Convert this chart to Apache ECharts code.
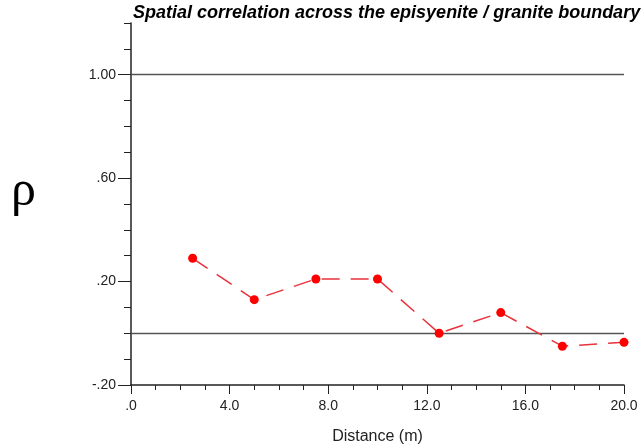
<!DOCTYPE html>
<html><head><meta charset="utf-8">
<script src="https://cdn.jsdelivr.net/npm/echarts@6/dist/echarts.min.js"></script>
<style>html,body{margin:0;padding:0;background:#fff}#c{width:644px;height:447px}</style>
</head><body><div id="c"></div>
<script>
const distance = [2.5, 5.0, 7.5, 10.0, 12.5, 15.0, 17.5, 20.0];
const rho = [0.29, 0.13, 0.21, 0.21, 0.0, 0.08, -0.05, -0.035];
const yTickLabels = [-0.2, 0.2, 0.6, 1.0];
const xTickLabels = [0, 4, 8, 12, 16, 20];
const refLines = [0, 1.0];
const titleText = 'Spatial correlation across the episyenite / granite boundary';
const xName = 'Distance (m)';
const yName = 'ρ';

function fmtY(v){
  const r = Math.round(v*100)/100;
  let s = Math.abs(r).toFixed(2);
  if (s.startsWith('0')) s = s.slice(1);
  return (r < 0 ? '-' : '') + s;
}
function fmtX(v){
  const r = Math.round(v*10)/10;
  let s = r.toFixed(1);
  if (s.startsWith('0')) s = s.slice(1);
  return s;
}
const axisColor = '#222';
const font = 'Liberation Sans, Arial, sans-serif';
const chart = echarts.init(document.getElementById('c'));
chart.setOption({
  backgroundColor: '#fff',
  animation: false,
  grid: {left: 131, right: 20, top: 23, bottom: 62, containLabel: false, outerBoundsMode: 'none'},
  graphic: [
    {type:'text', left: 133, top: 4, style:{text: titleText, font: 'italic bold 18px Liberation Sans, Arial, sans-serif', fill:'#000'}},
    {type:'text', left: 11, top: 167, style:{text: yName, font: '50px Liberation Serif, Times New Roman, serif', fill:'#000'}}
  ],
  xAxis: [
    {type:'value', min:0, max:20, interval:1, position:'bottom',
     axisLine:{show:true, onZero:false, lineStyle:{color:axisColor, width:1.5}},
     axisTick:{show:true, length:5, lineStyle:{color:axisColor, width:1}},
     axisLabel:{show:false}, splitLine:{show:false},
     name: xName, nameLocation:'middle', nameGap: 44,
     nameTextStyle:{fontFamily: font, fontSize: 16, color:'#222'}},
    {type:'value', min:0, max:20, interval:4, position:'bottom',
     axisLine:{show:false, onZero:false},
     axisTick:{show:true, length:9, lineStyle:{color:axisColor, width:1}},
     axisLabel:{show:true, margin:14, formatter: fmtX, fontFamily: font, fontSize: 14, color:'#222',
       customValues: xTickLabels},
     splitLine:{show:false}}
  ],
  yAxis: [
    {type:'value', min:-0.2, max:1.2, interval:0.1, position:'left',
     axisLine:{show:true, onZero:false, lineStyle:{color:axisColor, width:1.5}},
     axisTick:{show:true, length:7, lineStyle:{color:axisColor, width:1}},
     axisLabel:{show:false}, splitLine:{show:false}},
    {type:'value', min:-0.2, max:1.2, position:'left',
     axisLine:{show:false, onZero:false},
     axisTick:{show:true, length:13, customValues: yTickLabels, lineStyle:{color:axisColor, width:1}},
     axisLabel:{show:true, margin:15, customValues: yTickLabels, formatter: fmtY,
       fontFamily: font, fontSize: 14, color:'#222', padding:[0,0,8,0]},
     splitLine:{show:false}}
  ],
  series: [{
    type:'line', xAxisIndex:0, yAxisIndex:0,
    data: distance.map((d,i)=>[d, rho[i]]),
    symbol:'circle', symbolSize: 9,
    itemStyle:{color:'#ff0000'},
    lineStyle:{color:'#e8323c', width:1.5, type:[18,11]},
    markLine:{silent:true, symbol:['none','none'], label:{show:false},
      lineStyle:{color:'#555', width:1.3, type:'solid'},
      data: refLines.map(v=>({yAxis:v}))},
    z: 5
  }]
});
</script></body></html>
